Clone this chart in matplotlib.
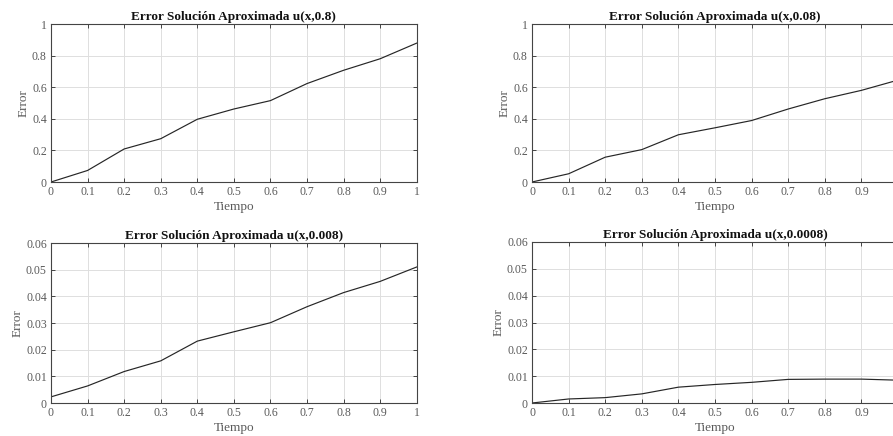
import matplotlib
matplotlib.use("Agg")
import matplotlib.pyplot as plt
import numpy as np

plt.rcParams['font.family'] = ['Liberation Serif', 'DejaVu Serif']

tiempo = [0, 0.1, 0.2, 0.3, 0.4, 0.5, 0.6, 0.7, 0.8, 0.9, 1.0]
err_08 = [0, 0.073, 0.209, 0.274, 0.397, 0.462, 0.515, 0.623, 0.707, 0.78, 0.879]
err_008 = [0, 0.052, 0.157, 0.205, 0.299, 0.343, 0.389, 0.462, 0.527, 0.58, 0.645]
err_0008 = [0.0023, 0.0064, 0.0118, 0.0158, 0.0232, 0.0267, 0.0301, 0.0361, 0.0414, 0.0456, 0.0510]
err_00008 = [0, 0.0015, 0.002, 0.0034, 0.0059, 0.0069, 0.0077, 0.0088, 0.0089, 0.0089, 0.0085]

titles = ["Error Solución Aproximada u(x,0.8)", "Error Solución Aproximada u(x,0.08)",
          "Error Solución Aproximada u(x,0.008)", "Error Solución Aproximada u(x,0.0008)"]
series = [err_08, err_008, err_0008, err_00008]
ylims = [(0, 1), (0, 1), (0, 0.06), (0, 0.06)]
yticks_top = [0, 0.2, 0.4, 0.6, 0.8, 1]
ytick_labels_top = ["0", "0.2", "0.4", "0.6", "0.8", "1"]
yticks_bot = [0, 0.01, 0.02, 0.03, 0.04, 0.05, 0.06]
ytick_labels_bot = ["0", "0.01", "0.02", "0.03", "0.04", "0.05", "0.06"]
xticks = [0, 0.1, 0.2, 0.3, 0.4, 0.5, 0.6, 0.7, 0.8, 0.9, 1]
xtick_labels = ["0", "0.1", "0.2", "0.3", "0.4", "0.5", "0.6", "0.7", "0.8", "0.9", "1"]

W, H = 893, 436
fig = plt.figure(figsize=(W / 100, H / 100), dpi=100)

boxes = [(51, 24, 416.7, 182), (532, 24, 898, 182), (51, 243, 416.7, 403), (532, 242, 898, 403)]

txtc = '#5a5a5a'
for i, (x0, y0, x1, y1) in enumerate(boxes):
    ax = fig.add_axes([x0 / W, 1 - y1 / H, (x1 - x0) / W, (y1 - y0) / H])
    ax.plot(tiempo, series[i], color='#262626', lw=0.85)
    ax.set_xlim(0, 1)
    ax.set_ylim(*ylims[i])
    ax.set_xticks(xticks)
    labels = list(xtick_labels)
    if i % 2 == 1:
        # the reference crops the right column; its last label lies outside the picture
        labels[-1] = ""
    ax.set_xticklabels(labels)
    if i < 2:
        ax.set_yticks(yticks_top)
        ax.set_yticklabels(ytick_labels_top)
    else:
        ax.set_yticks(yticks_bot)
        ax.set_yticklabels(ytick_labels_bot)
    ax.grid(True, color='#dedede', lw=0.7)
    ax.set_axisbelow(True)
    ax.tick_params(direction='in', top=True, right=True, length=3, width=0.7,
                   color='#444444', labelsize=8.5, labelcolor=txtc, pad=3)
    for s in ax.spines.values():
        s.set_color('#444444')
        s.set_linewidth(0.8)
    ax.set_title(titles[i], fontsize=9.5, fontweight='bold', color='#111111', pad=3)
    ax.set_xlabel("Tiempo", fontsize=9.5, color=txtc, labelpad=2)
    ax.set_ylabel("Error", fontsize=9.5, color=txtc, labelpad=1.5)

fig.savefig("out.png", dpi=100)
